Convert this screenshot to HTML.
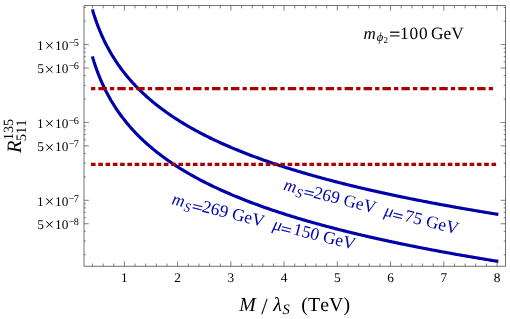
<!DOCTYPE html>
<html><head><meta charset="utf-8"><title>plot</title>
<style>
html,body{margin:0;padding:0;background:#fff;}
body{width:510px;height:319px;overflow:hidden;}
svg{display:block;will-change:transform;}
text{font-family:"Liberation Serif",serif;fill:#000;text-rendering:geometricPrecision;font-kerning:none;}
.i{font-style:italic;}
.b text{fill:#0000AA;}
.eq{stroke:#000;}
.b .eq{stroke:#0000AA;}
</style></head><body>
<svg width="510" height="319" viewBox="0 0 510 319">
<rect width="510" height="319" fill="#fff"/>
<path d="M92.45,9.50 L92.45,9.51 L92.46,9.54 L92.47,9.58 L92.49,9.64 L92.51,9.72 L92.54,9.82 L92.57,9.93 L92.61,10.06 L92.66,10.21 L92.70,10.38 L92.76,10.56 L92.82,10.76 L92.88,10.97 L92.95,11.21 L93.02,11.46 L93.10,11.72 L93.18,12.00 L93.27,12.29 L93.37,12.61 L93.46,12.93 L93.57,13.27 L93.68,13.63 L93.79,13.99 L93.91,14.38 L94.04,14.77 L94.16,15.18 L94.30,15.61 L94.44,16.04 L94.58,16.49 L94.73,16.95 L94.89,17.42 L95.05,17.90 L95.21,18.40 L95.38,18.90 L95.56,19.42 L95.74,19.95 L95.92,20.48 L96.11,21.03 L96.31,21.58 L96.51,22.15 L96.71,22.72 L96.93,23.30 L97.14,23.89 L97.36,24.49 L97.59,25.10 L97.82,25.71 L98.05,26.33 L98.29,26.95 L98.54,27.59 L98.79,28.23 L99.05,28.87 L99.31,29.53 L99.58,30.18 L99.85,30.85 L100.12,31.51 L100.41,32.19 L100.69,32.86 L100.98,33.54 L101.28,34.23 L101.58,34.92 L101.89,35.61 L102.20,36.31 L102.52,37.01 L102.84,37.72 L103.17,38.43 L103.50,39.14 L103.84,39.85 L104.18,40.57 L104.53,41.28 L104.88,42.00 L105.24,42.73 L105.60,43.45 L105.97,44.18 L106.34,44.91 L106.72,45.64 L107.10,46.37 L107.49,47.10 L107.88,47.83 L108.28,48.57 L108.69,49.31 L109.09,50.04 L109.51,50.78 L109.93,51.52 L110.35,52.26 L110.78,53.00 L111.21,53.73 L111.65,54.47 L112.10,55.21 L112.54,55.95 L113.00,56.69 L113.46,57.43 L113.92,58.17 L114.39,58.91 L114.87,59.65 L115.35,60.39 L115.83,61.13 L116.32,61.87 L116.81,62.60 L117.31,63.34 L117.82,64.08 L118.33,64.81 L118.84,65.54 L119.36,66.28 L119.89,67.01 L120.42,67.74 L120.95,68.47 L121.49,69.20 L122.04,69.93 L122.59,70.65 L123.15,71.38 L123.71,72.10 L124.27,72.83 L124.84,73.55 L125.42,74.27 L126.00,74.99 L126.59,75.71 L127.18,76.42 L127.77,77.14 L128.37,77.85 L128.98,78.56 L129.59,79.27 L130.21,79.98 L130.83,80.69 L131.46,81.39 L132.09,82.10 L132.73,82.80 L133.37,83.50 L134.01,84.20 L134.67,84.89 L135.32,85.59 L135.99,86.28 L136.65,86.97 L137.32,87.66 L138.00,88.35 L138.68,89.04 L139.37,89.72 L140.06,90.40 L140.76,91.08 L141.47,91.76 L142.17,92.44 L142.89,93.11 L143.60,93.79 L144.33,94.46 L145.05,95.13 L145.79,95.79 L146.53,96.46 L147.27,97.12 L148.02,97.78 L148.77,98.44 L149.53,99.10 L150.29,99.76 L151.06,100.41 L151.84,101.06 L152.61,101.71 L153.40,102.36 L154.19,103.00 L154.98,103.65 L155.78,104.29 L156.59,104.93 L157.39,105.57 L158.21,106.20 L159.03,106.84 L159.85,107.47 L160.68,108.10 L161.52,108.73 L162.36,109.35 L163.20,109.98 L164.05,110.60 L164.91,111.22 L165.77,111.84 L166.63,112.45 L167.50,113.07 L168.38,113.68 L169.26,114.29 L170.14,114.90 L171.03,115.51 L171.93,116.11 L172.83,116.71 L173.73,117.32 L174.65,117.91 L175.56,118.51 L176.48,119.11 L177.41,119.70 L178.34,120.29 L179.27,120.88 L180.22,121.47 L181.16,122.05 L182.11,122.64 L183.07,123.22 L184.03,123.80 L185.00,124.38 L185.97,124.95 L186.95,125.53 L187.93,126.10 L188.92,126.67 L189.91,127.24 L190.90,127.81 L191.91,128.37 L192.91,128.94 L193.93,129.50 L194.94,130.06 L195.97,130.62 L196.99,131.17 L198.03,131.73 L199.06,132.28 L200.11,132.83 L201.15,133.38 L202.21,133.93 L203.26,134.48 L204.33,135.02 L205.39,135.56 L206.47,136.10 L207.55,136.64 L208.63,137.18 L209.72,137.71 L210.81,138.25 L211.91,138.78 L213.01,139.31 L214.12,139.84 L215.24,140.37 L216.35,140.89 L217.48,141.42 L218.61,141.94 L219.74,142.46 L220.88,142.98 L222.02,143.50 L223.17,144.01 L224.33,144.53 L225.49,145.04 L226.65,145.55 L227.82,146.06 L229.00,146.57 L230.18,147.07 L231.36,147.58 L232.55,148.08 L233.74,148.58 L234.94,149.08 L236.15,149.58 L237.36,150.08 L238.57,150.57 L239.79,151.07 L241.02,151.56 L242.25,152.05 L243.49,152.54 L244.73,153.03 L245.97,153.51 L247.22,154.00 L248.48,154.48 L249.74,154.96 L251.01,155.44 L252.28,155.92 L253.55,156.40 L254.83,156.88 L256.12,157.35 L257.41,157.82 L258.71,158.30 L260.01,158.77 L261.32,159.24 L262.63,159.70 L263.94,160.17 L265.27,160.64 L266.59,161.10 L267.92,161.56 L269.26,162.02 L270.60,162.48 L271.95,162.94 L273.30,163.40 L274.66,163.85 L276.02,164.31 L277.39,164.76 L278.76,165.21 L280.14,165.66 L281.52,166.11 L282.91,166.56 L284.30,167.00 L285.70,167.45 L287.10,167.89 L288.51,168.34 L289.92,168.78 L291.34,169.22 L292.77,169.66 L294.19,170.09 L295.63,170.53 L297.07,170.96 L298.51,171.40 L299.96,171.83 L301.41,172.26 L302.87,172.69 L304.33,173.12 L305.80,173.55 L307.28,173.98 L308.76,174.40 L310.24,174.83 L311.73,175.25 L313.22,175.67 L314.72,176.09 L316.23,176.51 L317.74,176.93 L319.25,177.35 L320.77,177.76 L322.29,178.18 L323.82,178.59 L325.36,179.00 L326.90,179.42 L328.44,179.83 L329.99,180.23 L331.55,180.64 L333.11,181.05 L334.67,181.46 L336.24,181.86 L337.82,182.27 L339.40,182.67 L340.99,183.07 L342.58,183.47 L344.17,183.87 L345.77,184.27 L347.38,184.67 L348.99,185.06 L350.61,185.46 L352.23,185.85 L353.85,186.24 L355.48,186.64 L357.12,187.03 L358.76,187.42 L360.41,187.81 L362.06,188.20 L363.72,188.58 L365.38,188.97 L367.05,189.35 L368.72,189.74 L370.39,190.12 L372.08,190.50 L373.76,190.88 L375.45,191.26 L377.15,191.64 L378.85,192.02 L380.56,192.40 L382.27,192.78 L383.99,193.15 L385.71,193.53 L387.44,193.90 L389.17,194.27 L390.91,194.64 L392.65,195.01 L394.40,195.38 L396.16,195.75 L397.91,196.12 L399.68,196.49 L401.45,196.85 L403.22,197.22 L405.00,197.58 L406.78,197.95 L408.57,198.31 L410.36,198.67 L412.16,199.03 L413.96,199.39 L415.77,199.75 L417.59,200.11 L419.41,200.46 L421.23,200.82 L423.06,201.18 L424.89,201.53 L426.73,201.89 L428.58,202.24 L430.43,202.59 L432.28,202.94 L434.14,203.29 L436.01,203.64 L437.87,203.99 L439.75,204.34 L441.63,204.68 L443.51,205.03 L445.40,205.38 L447.30,205.72 L449.20,206.06 L451.10,206.41 L453.02,206.75 L454.93,207.09 L456.85,207.43 L458.78,207.77 L460.71,208.11 L462.64,208.45 L464.58,208.79 L466.53,209.12 L468.48,209.46 L470.44,209.79 L472.40,210.13 L474.36,210.46 L476.33,210.79 L478.31,211.13 L480.29,211.46 L482.28,211.79 L484.27,212.12 L486.27,212.45 L488.27,212.77 L490.27,213.10 L492.29,213.43 L494.30,213.75 L496.32,214.08 L498.35,214.40" fill="none" stroke="#0000AA" stroke-width="3.15" stroke-linejoin="round"/>
<path d="M92.45,56.50 L92.45,56.51 L92.46,56.54 L92.47,56.58 L92.49,56.64 L92.51,56.72 L92.54,56.82 L92.57,56.93 L92.61,57.06 L92.66,57.21 L92.70,57.38 L92.76,57.56 L92.82,57.76 L92.88,57.97 L92.95,58.21 L93.02,58.46 L93.10,58.72 L93.18,59.00 L93.27,59.29 L93.37,59.61 L93.46,59.93 L93.57,60.27 L93.68,60.63 L93.79,60.99 L93.91,61.38 L94.04,61.77 L94.16,62.18 L94.30,62.61 L94.44,63.04 L94.58,63.49 L94.73,63.95 L94.89,64.42 L95.05,64.90 L95.21,65.40 L95.38,65.90 L95.56,66.42 L95.74,66.95 L95.92,67.48 L96.11,68.03 L96.31,68.58 L96.51,69.15 L96.71,69.72 L96.93,70.30 L97.14,70.89 L97.36,71.49 L97.59,72.10 L97.82,72.71 L98.05,73.33 L98.29,73.95 L98.54,74.59 L98.79,75.23 L99.05,75.87 L99.31,76.53 L99.58,77.18 L99.85,77.85 L100.12,78.51 L100.41,79.19 L100.69,79.86 L100.98,80.54 L101.28,81.23 L101.58,81.92 L101.89,82.61 L102.20,83.31 L102.52,84.01 L102.84,84.72 L103.17,85.43 L103.50,86.14 L103.84,86.85 L104.18,87.57 L104.53,88.28 L104.88,89.00 L105.24,89.73 L105.60,90.45 L105.97,91.18 L106.34,91.91 L106.72,92.64 L107.10,93.37 L107.49,94.10 L107.88,94.83 L108.28,95.57 L108.69,96.31 L109.09,97.04 L109.51,97.78 L109.93,98.52 L110.35,99.26 L110.78,100.00 L111.21,100.73 L111.65,101.47 L112.10,102.21 L112.54,102.95 L113.00,103.69 L113.46,104.43 L113.92,105.17 L114.39,105.91 L114.87,106.65 L115.35,107.39 L115.83,108.13 L116.32,108.87 L116.81,109.60 L117.31,110.34 L117.82,111.08 L118.33,111.81 L118.84,112.54 L119.36,113.28 L119.89,114.01 L120.42,114.74 L120.95,115.47 L121.49,116.20 L122.04,116.93 L122.59,117.65 L123.15,118.38 L123.71,119.10 L124.27,119.83 L124.84,120.55 L125.42,121.27 L126.00,121.99 L126.59,122.71 L127.18,123.42 L127.77,124.14 L128.37,124.85 L128.98,125.56 L129.59,126.27 L130.21,126.98 L130.83,127.69 L131.46,128.39 L132.09,129.10 L132.73,129.80 L133.37,130.50 L134.01,131.20 L134.67,131.89 L135.32,132.59 L135.99,133.28 L136.65,133.97 L137.32,134.66 L138.00,135.35 L138.68,136.04 L139.37,136.72 L140.06,137.40 L140.76,138.08 L141.47,138.76 L142.17,139.44 L142.89,140.11 L143.60,140.79 L144.33,141.46 L145.05,142.13 L145.79,142.79 L146.53,143.46 L147.27,144.12 L148.02,144.78 L148.77,145.44 L149.53,146.10 L150.29,146.76 L151.06,147.41 L151.84,148.06 L152.61,148.71 L153.40,149.36 L154.19,150.00 L154.98,150.65 L155.78,151.29 L156.59,151.93 L157.39,152.57 L158.21,153.20 L159.03,153.84 L159.85,154.47 L160.68,155.10 L161.52,155.73 L162.36,156.35 L163.20,156.98 L164.05,157.60 L164.91,158.22 L165.77,158.84 L166.63,159.45 L167.50,160.07 L168.38,160.68 L169.26,161.29 L170.14,161.90 L171.03,162.51 L171.93,163.11 L172.83,163.71 L173.73,164.32 L174.65,164.91 L175.56,165.51 L176.48,166.11 L177.41,166.70 L178.34,167.29 L179.27,167.88 L180.22,168.47 L181.16,169.05 L182.11,169.64 L183.07,170.22 L184.03,170.80 L185.00,171.38 L185.97,171.95 L186.95,172.53 L187.93,173.10 L188.92,173.67 L189.91,174.24 L190.90,174.81 L191.91,175.37 L192.91,175.94 L193.93,176.50 L194.94,177.06 L195.97,177.62 L196.99,178.17 L198.03,178.73 L199.06,179.28 L200.11,179.83 L201.15,180.38 L202.21,180.93 L203.26,181.48 L204.33,182.02 L205.39,182.56 L206.47,183.10 L207.55,183.64 L208.63,184.18 L209.72,184.71 L210.81,185.25 L211.91,185.78 L213.01,186.31 L214.12,186.84 L215.24,187.37 L216.35,187.89 L217.48,188.42 L218.61,188.94 L219.74,189.46 L220.88,189.98 L222.02,190.50 L223.17,191.01 L224.33,191.53 L225.49,192.04 L226.65,192.55 L227.82,193.06 L229.00,193.57 L230.18,194.07 L231.36,194.58 L232.55,195.08 L233.74,195.58 L234.94,196.08 L236.15,196.58 L237.36,197.08 L238.57,197.57 L239.79,198.07 L241.02,198.56 L242.25,199.05 L243.49,199.54 L244.73,200.03 L245.97,200.51 L247.22,201.00 L248.48,201.48 L249.74,201.96 L251.01,202.44 L252.28,202.92 L253.55,203.40 L254.83,203.88 L256.12,204.35 L257.41,204.82 L258.71,205.30 L260.01,205.77 L261.32,206.24 L262.63,206.70 L263.94,207.17 L265.27,207.64 L266.59,208.10 L267.92,208.56 L269.26,209.02 L270.60,209.48 L271.95,209.94 L273.30,210.40 L274.66,210.85 L276.02,211.31 L277.39,211.76 L278.76,212.21 L280.14,212.66 L281.52,213.11 L282.91,213.56 L284.30,214.00 L285.70,214.45 L287.10,214.89 L288.51,215.34 L289.92,215.78 L291.34,216.22 L292.77,216.66 L294.19,217.09 L295.63,217.53 L297.07,217.96 L298.51,218.40 L299.96,218.83 L301.41,219.26 L302.87,219.69 L304.33,220.12 L305.80,220.55 L307.28,220.98 L308.76,221.40 L310.24,221.83 L311.73,222.25 L313.22,222.67 L314.72,223.09 L316.23,223.51 L317.74,223.93 L319.25,224.35 L320.77,224.76 L322.29,225.18 L323.82,225.59 L325.36,226.00 L326.90,226.42 L328.44,226.83 L329.99,227.23 L331.55,227.64 L333.11,228.05 L334.67,228.46 L336.24,228.86 L337.82,229.27 L339.40,229.67 L340.99,230.07 L342.58,230.47 L344.17,230.87 L345.77,231.27 L347.38,231.67 L348.99,232.06 L350.61,232.46 L352.23,232.85 L353.85,233.24 L355.48,233.64 L357.12,234.03 L358.76,234.42 L360.41,234.81 L362.06,235.20 L363.72,235.58 L365.38,235.97 L367.05,236.35 L368.72,236.74 L370.39,237.12 L372.08,237.50 L373.76,237.88 L375.45,238.26 L377.15,238.64 L378.85,239.02 L380.56,239.40 L382.27,239.78 L383.99,240.15 L385.71,240.53 L387.44,240.90 L389.17,241.27 L390.91,241.64 L392.65,242.01 L394.40,242.38 L396.16,242.75 L397.91,243.12 L399.68,243.49 L401.45,243.85 L403.22,244.22 L405.00,244.58 L406.78,244.95 L408.57,245.31 L410.36,245.67 L412.16,246.03 L413.96,246.39 L415.77,246.75 L417.59,247.11 L419.41,247.46 L421.23,247.82 L423.06,248.18 L424.89,248.53 L426.73,248.89 L428.58,249.24 L430.43,249.59 L432.28,249.94 L434.14,250.29 L436.01,250.64 L437.87,250.99 L439.75,251.34 L441.63,251.68 L443.51,252.03 L445.40,252.38 L447.30,252.72 L449.20,253.06 L451.10,253.41 L453.02,253.75 L454.93,254.09 L456.85,254.43 L458.78,254.77 L460.71,255.11 L462.64,255.45 L464.58,255.79 L466.53,256.12 L468.48,256.46 L470.44,256.79 L472.40,257.13 L474.36,257.46 L476.33,257.79 L478.31,258.13 L480.29,258.46 L482.28,258.79 L484.27,259.12 L486.27,259.45 L488.27,259.77 L490.27,260.10 L492.29,260.43 L494.30,260.75 L496.32,261.08 L498.35,261.40" fill="none" stroke="#0000AA" stroke-width="3.15" stroke-linejoin="round"/>
<path d="M91.0,88.6 H494.5" stroke="#AA0000" stroke-width="3.2" stroke-dasharray="4.3 3.1 8.4 3.14" fill="none"/>
<path d="M91.0,164.4 H496.3" stroke="#AA0000" stroke-width="3.2" stroke-dasharray="4.6 2.682" fill="none"/>
<g stroke="#4f4f4f" stroke-width="0.8" fill="none">
<path d="M84.0,5.5 H505.5 V266.3 H84.0 Z"/>
</g>
<path d="M92.45,266.3 v-2.8 M92.45,5.5 v2.8 M103.10,266.3 v-2.8 M103.10,5.5 v2.8 M113.75,266.3 v-2.8 M113.75,5.5 v2.8 M124.39,266.3 v-5.0 M124.39,5.5 v5.0 M135.04,266.3 v-2.8 M135.04,5.5 v2.8 M145.69,266.3 v-2.8 M145.69,5.5 v2.8 M156.34,266.3 v-2.8 M156.34,5.5 v2.8 M166.99,266.3 v-2.8 M166.99,5.5 v2.8 M177.63,266.3 v-5.0 M177.63,5.5 v5.0 M188.28,266.3 v-2.8 M188.28,5.5 v2.8 M198.93,266.3 v-2.8 M198.93,5.5 v2.8 M209.58,266.3 v-2.8 M209.58,5.5 v2.8 M220.23,266.3 v-2.8 M220.23,5.5 v2.8 M230.87,266.3 v-5.0 M230.87,5.5 v5.0 M241.52,266.3 v-2.8 M241.52,5.5 v2.8 M252.17,266.3 v-2.8 M252.17,5.5 v2.8 M262.82,266.3 v-2.8 M262.82,5.5 v2.8 M273.47,266.3 v-2.8 M273.47,5.5 v2.8 M284.11,266.3 v-5.0 M284.11,5.5 v5.0 M294.76,266.3 v-2.8 M294.76,5.5 v2.8 M305.41,266.3 v-2.8 M305.41,5.5 v2.8 M316.06,266.3 v-2.8 M316.06,5.5 v2.8 M326.71,266.3 v-2.8 M326.71,5.5 v2.8 M337.35,266.3 v-5.0 M337.35,5.5 v5.0 M348.00,266.3 v-2.8 M348.00,5.5 v2.8 M358.65,266.3 v-2.8 M358.65,5.5 v2.8 M369.30,266.3 v-2.8 M369.30,5.5 v2.8 M379.95,266.3 v-2.8 M379.95,5.5 v2.8 M390.59,266.3 v-5.0 M390.59,5.5 v5.0 M401.24,266.3 v-2.8 M401.24,5.5 v2.8 M411.89,266.3 v-2.8 M411.89,5.5 v2.8 M422.54,266.3 v-2.8 M422.54,5.5 v2.8 M433.19,266.3 v-2.8 M433.19,5.5 v2.8 M443.83,266.3 v-5.0 M443.83,5.5 v5.0 M454.48,266.3 v-2.8 M454.48,5.5 v2.8 M465.13,266.3 v-2.8 M465.13,5.5 v2.8 M475.78,266.3 v-2.8 M475.78,5.5 v2.8 M486.43,266.3 v-2.8 M486.43,5.5 v2.8 M497.07,266.3 v-5.0 M497.07,5.5 v5.0 M84.0,254.71 h1.8 M505.5,254.71 h-1.8 M84.0,241.01 h1.8 M505.5,241.01 h-1.8 M84.0,231.28 h1.8 M505.5,231.28 h-1.8 M84.0,223.74 h4.8 M505.5,223.74 h-4.8 M84.0,217.57 h1.8 M505.5,217.57 h-1.8 M84.0,212.36 h1.8 M505.5,212.36 h-1.8 M84.0,207.84 h1.8 M505.5,207.84 h-1.8 M84.0,203.86 h1.8 M505.5,203.86 h-1.8 M84.0,200.30 h4.8 M505.5,200.30 h-4.8 M84.0,176.86 h1.8 M505.5,176.86 h-1.8 M84.0,163.16 h1.8 M505.5,163.16 h-1.8 M84.0,153.43 h1.8 M505.5,153.43 h-1.8 M84.0,145.89 h4.8 M505.5,145.89 h-4.8 M84.0,139.72 h1.8 M505.5,139.72 h-1.8 M84.0,134.51 h1.8 M505.5,134.51 h-1.8 M84.0,129.99 h1.8 M505.5,129.99 h-1.8 M84.0,126.01 h1.8 M505.5,126.01 h-1.8 M84.0,122.45 h4.8 M505.5,122.45 h-4.8 M84.0,99.01 h1.8 M505.5,99.01 h-1.8 M84.0,85.31 h1.8 M505.5,85.31 h-1.8 M84.0,75.58 h1.8 M505.5,75.58 h-1.8 M84.0,68.04 h4.8 M505.5,68.04 h-4.8 M84.0,61.87 h1.8 M505.5,61.87 h-1.8 M84.0,56.66 h1.8 M505.5,56.66 h-1.8 M84.0,52.14 h1.8 M505.5,52.14 h-1.8 M84.0,48.16 h1.8 M505.5,48.16 h-1.8 M84.0,44.60 h4.8 M505.5,44.60 h-4.8 M84.0,21.16 h1.8 M505.5,21.16 h-1.8 M84.0,7.46 h1.8 M505.5,7.46 h-1.8" stroke="#484848" stroke-width="0.7" fill="none"/>
<text x="124.39" y="282.1" font-size="13.3" text-anchor="middle">1</text>
<text x="177.63" y="282.1" font-size="13.3" text-anchor="middle">2</text>
<text x="230.87" y="282.1" font-size="13.3" text-anchor="middle">3</text>
<text x="284.11" y="282.1" font-size="13.3" text-anchor="middle">4</text>
<text x="337.35" y="282.1" font-size="13.3" text-anchor="middle">5</text>
<text x="390.59" y="282.1" font-size="13.3" text-anchor="middle">6</text>
<text x="443.83" y="282.1" font-size="13.3" text-anchor="middle">7</text>
<text x="497.07" y="282.1" font-size="13.3" text-anchor="middle">8</text>
<text x="36.90" y="49.80" font-size="13.3">1</text>
<text x="44.65" y="51.30" font-size="16.6">×</text>
<text x="54.90" y="49.80" font-size="13.3" letter-spacing="0.3">10</text>
<text x="68.70" y="46.00" font-size="10.2" letter-spacing="-0.7">−5</text>
<text x="37.30" y="73.24" font-size="13.3">5</text>
<text x="44.65" y="74.74" font-size="16.6">×</text>
<text x="54.90" y="73.24" font-size="13.3" letter-spacing="0.3">10</text>
<text x="68.70" y="69.44" font-size="10.2" letter-spacing="-0.7">−6</text>
<text x="36.90" y="127.65" font-size="13.3">1</text>
<text x="44.65" y="129.15" font-size="16.6">×</text>
<text x="54.90" y="127.65" font-size="13.3" letter-spacing="0.3">10</text>
<text x="68.70" y="123.85" font-size="10.2" letter-spacing="-0.7">−6</text>
<text x="37.30" y="151.09" font-size="13.3">5</text>
<text x="44.65" y="152.59" font-size="16.6">×</text>
<text x="54.90" y="151.09" font-size="13.3" letter-spacing="0.3">10</text>
<text x="68.70" y="147.29" font-size="10.2" letter-spacing="-0.7">−7</text>
<text x="36.90" y="205.50" font-size="13.3">1</text>
<text x="44.65" y="207.00" font-size="16.6">×</text>
<text x="54.90" y="205.50" font-size="13.3" letter-spacing="0.3">10</text>
<text x="68.70" y="201.70" font-size="10.2" letter-spacing="-0.7">−7</text>
<text x="37.30" y="228.94" font-size="13.3">5</text>
<text x="44.65" y="230.44" font-size="16.6">×</text>
<text x="54.90" y="228.94" font-size="13.3" letter-spacing="0.3">10</text>
<text x="68.70" y="225.14" font-size="10.2" letter-spacing="-0.7">−8</text>
<text x="239.30" y="311.40" font-size="19.8" class="i">M</text>
<text x="261.20" y="313.90" font-size="23">/</text>
<text x="273.20" y="311.40" font-size="19.8" class="i">λ</text>
<text x="282.60" y="314.20" font-size="14.5" class="i">S</text>
<text x="301.30" y="311.40" font-size="19.8" letter-spacing="0.12">(TeV)</text>
<g transform="translate(21.0,153) rotate(-90)">
<text x="0" y="0" font-size="20.4" class="i">R</text>
<text x="12.9" y="-7.9" font-size="14.1">135</text>
<text x="11.7" y="5.0" font-size="14.5">511</text>
</g>
<text x="363.60" y="38.80" font-size="17" class="i">m</text>
<text x="376.80" y="41.40" font-size="12.5" class="i">ϕ</text>
<text x="383.60" y="43.00" font-size="9">2</text>
<text transform="translate(389.20,40.00) scale(1,0.93)" font-size="19.4" stroke-width="0.3" class="eq">=</text>
<text x="400.10" y="38.70" font-size="17.3" letter-spacing="0.75">100</text>
<text x="431.00" y="38.70" font-size="17.3">GeV</text>
<g class="b" transform="translate(283.8,190.1) rotate(14.35)">
<text x="-1.10" y="0.00" font-size="17.5" class="i">m</text>
<text x="12.40" y="3.50" font-size="12.8" class="i">S</text>
<text transform="translate(19.90,2.15) scale(1,0.87)" font-size="19" stroke-width="0.3" class="eq">=</text>
<text x="30.00" y="0.00" font-size="17.5">269 GeV</text>
<text x="102.90" y="0.00" font-size="17.5" class="i">μ</text>
<text transform="translate(111.50,2.15) scale(1,0.87)" font-size="19" stroke-width="0.3" class="eq">=</text>
<text x="123.80" y="0.00" font-size="17.5">75 GeV</text>
</g>
<g class="b" transform="translate(172.1,204.3) rotate(14.05)">
<text x="-1.10" y="0.00" font-size="17.5" class="i">m</text>
<text x="12.40" y="3.50" font-size="12.8" class="i">S</text>
<text transform="translate(19.90,2.15) scale(1,0.87)" font-size="19" stroke-width="0.3" class="eq">=</text>
<text x="30.00" y="0.00" font-size="17.5">269 GeV</text>
<text x="102.90" y="0.00" font-size="17.5" class="i">μ</text>
<text transform="translate(111.50,2.15) scale(1,0.87)" font-size="19" stroke-width="0.3" class="eq">=</text>
<text x="123.80" y="0.00" font-size="17.5">150 GeV</text>
</g>
</svg></body></html>
